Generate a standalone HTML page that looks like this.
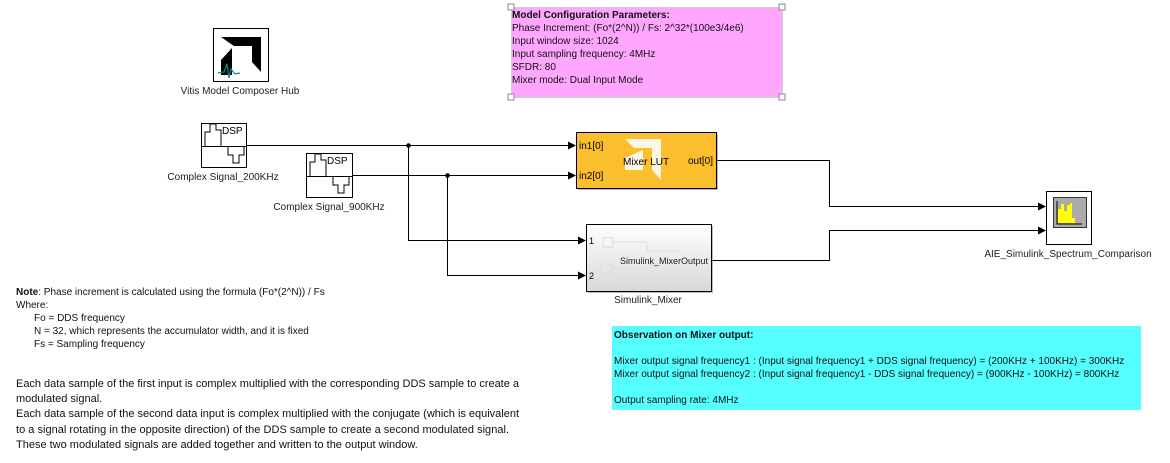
<!DOCTYPE html>
<html><head><meta charset="utf-8"><style>
body{margin:0;background:#fff;}
svg{display:block;font-family:"Liberation Sans",sans-serif;}
</style></head><body>
<svg width="1170" height="463" viewBox="0 0 1170 463">
<defs>
<marker id="a" markerWidth="8" markerHeight="8" refX="7" refY="4" orient="auto" markerUnits="userSpaceOnUse"><path d="M0,0 L8,4 L0,8 z" fill="#000"/></marker>
<linearGradient id="g" x1="0" y1="0" x2="0" y2="1"><stop offset="0" stop-color="#fff"/><stop offset="1" stop-color="#d8d8d8"/></linearGradient>
</defs>
<!-- Hub -->
<rect x="213.5" y="28.5" width="55" height="53" fill="#fff" stroke="#000"/>
<polygon points="221,37 261,37 261,72 252,62 252,46 234,46" fill="#000"/>
<polygon points="232,48 232,75 221,75 221,60" fill="#000"/>
<polyline points="218,73 224,72 227,64 229,78 231,69 235,74 240,73" fill="none" stroke="#0a8a8a" stroke-width="1.2"/>
<text x="240" y="94" font-size="10" text-anchor="middle" fill="#222">Vitis Model Composer Hub</text>
<!-- pink -->
<rect x="511.5" y="7.5" width="271" height="90" fill="#FFA6FF" stroke="#ccc"/>
<g fill="#fff" stroke="#888"><rect x="508" y="4" width="6" height="6"/><rect x="779" y="4" width="6" height="6"/><rect x="508" y="94" width="6" height="6"/><rect x="779" y="94" width="6" height="6"/></g>
<g font-size="10" fill="#111">
<text x="512" y="18" font-weight="bold">Model Configuration Parameters:</text>
<text x="512" y="31">Phase Increment: (Fo*(2^N)) / Fs:  2^32*(100e3/4e6)</text>
<text x="512" y="44">Input window size: 1024</text>
<text x="512" y="57">Input sampling frequency: 4MHz</text>
<text x="512" y="70">SFDR: 80</text>
<text x="512" y="83">Mixer mode: Dual Input Mode</text>
</g>
<!-- DSP blocks -->
<g fill="none" stroke="#000">
<rect x="201.5" y="123.5" width="45" height="44" fill="#fff"/>
<path d="M201.5,146.5 H246.5 M205,146 V132 H210 V124 H216 V130 H221 V146 M228,146 V155 H233 V163 H239 V155 H244 V146"/>
<rect x="306.5" y="153.5" width="46" height="44" fill="#fff"/>
<path d="M306.5,176.5 H352.5 M310,176 V162 H315 V154 H321 V160 H326 V176 M333,176 V185 H338 V193 H344 V185 H349 V176"/>
</g>
<text x="222" y="134" font-size="10">DSP</text>
<text x="327" y="164" font-size="10">DSP</text>
<text x="223" y="180" font-size="10" text-anchor="middle" fill="#222">Complex Signal_200KHz</text>
<text x="329" y="210" font-size="10" text-anchor="middle" fill="#222">Complex Signal_900KHz</text>
<!-- wires -->
<g fill="none" stroke="#000" stroke-width="1">
<path d="M246,145.5 H575" marker-end="url(#a)"/>
<path d="M352,175.5 H575" marker-end="url(#a)"/>
<path d="M408.5,145 V240.5 H585" marker-end="url(#a)"/>
<path d="M447.5,175 V275.5 H585" marker-end="url(#a)"/>
<path d="M716,160.5 H829.5 V206.5 H1045" marker-end="url(#a)"/>
<path d="M711,260.5 H829.5 V230.5 H1045" marker-end="url(#a)"/>
</g>
<circle cx="408.5" cy="145.5" r="2.3"/><circle cx="447.5" cy="175.5" r="2.3"/>
<!-- Mixer LUT -->
<rect x="578" y="134" width="140" height="56" fill="#888" opacity="0.6"/>
<rect x="576.5" y="132.5" width="140" height="56" fill="#FBBF2E" stroke="#000"/>
<polygon points="625,139 661,139 661,180 652,170 652,148 634,148" fill="#fbf6e6"/>
<polygon points="643,150 643,170 625,170 625,180 625,158" fill="#fbf6e6"/>
<text x="579" y="149" font-size="10">in1[0]</text>
<text x="579" y="179" font-size="10">in2[0]</text>
<text x="623" y="165" font-size="10">Mixer LUT</text>
<text x="688" y="164" font-size="10">out[0]</text>
<!-- Simulink Mixer -->
<rect x="588" y="226" width="125" height="67" fill="#888" opacity="0.6"/>
<rect x="586.5" y="224.5" width="125" height="67" fill="url(#g)" stroke="#000"/>
<g fill="none" stroke="#ddd"><rect x="603" y="238" width="10" height="9"/><rect x="601" y="264" width="10" height="9"/><path d="M613,242 H647 V251 H680 M611,268 H650 V261"/></g>
<text x="589" y="244" font-size="9">1</text>
<text x="589" y="279" font-size="9">2</text>
<text x="620" y="264" font-size="9" fill="#222">Simulink_MixerOutput</text>
<text x="648" y="303" font-size="10" text-anchor="middle" fill="#222">Simulink_Mixer</text>
<!-- Scope -->
<rect x="1046.5" y="191.5" width="45" height="53" fill="#fff" stroke="#000"/>
<rect x="1053.5" y="197.5" width="33" height="30" fill="#aaa" stroke="#333"/>
<path d="M1057,201 V224 H1082" stroke="#000" fill="none"/>
<path d="M1058,223 V209 H1061 V204 H1064 V211 H1067 V205 H1070 V203 H1072 V218 H1075 V223 z" fill="#ff0"/>
<text x="1068" y="257" font-size="10" text-anchor="middle" fill="#222">AIE_Simulink_Spectrum_Comparison</text>
<!-- Notes -->
<g font-size="10" fill="#111">
<text x="16" y="295"><tspan font-weight="bold">Note</tspan>: Phase increment is calculated using the formula (Fo*(2^N)) / Fs</text>
<text x="16" y="308">Where:</text>
<text x="34" y="321">Fo = DDS frequency</text>
<text x="34" y="334">N = 32, which represents the accumulator width, and it is fixed</text>
<text x="34" y="347">Fs = Sampling frequency</text>
</g>
<g font-size="11" fill="#111">
<text x="16" y="387" textLength="503">Each data sample of the first input is complex multiplied with the corresponding DDS sample to create a</text>
<text x="16" y="402">modulated signal.</text>
<text x="16" y="417" textLength="503">Each data sample of the second data input is complex multiplied with the conjugate (which is equivalent</text>
<text x="16" y="433" textLength="493">to a signal rotating in the opposite direction)  of the DDS sample to create a second modulated signal.</text>
<text x="16" y="448">These two modulated signals are added together and written to the output window.</text>
</g>
<!-- Cyan -->
<rect x="612" y="326" width="529" height="84" fill="#55FFFF"/>
<g font-size="10" fill="#111">
<text x="614" y="338" font-weight="bold">Observation on Mixer output:</text>
<text x="614" y="364">Mixer output signal frequency1 :  (Input signal frequency1 + DDS signal frequency) = (200KHz + 100KHz) = 300KHz</text>
<text x="614" y="377">Mixer output signal frequency2 :  (Input signal frequency1 - DDS signal frequency) = (900KHz - 100KHz) = 800KHz</text>
<text x="614" y="403">Output sampling rate: 4MHz</text>
</g>
</svg>
</body></html>
